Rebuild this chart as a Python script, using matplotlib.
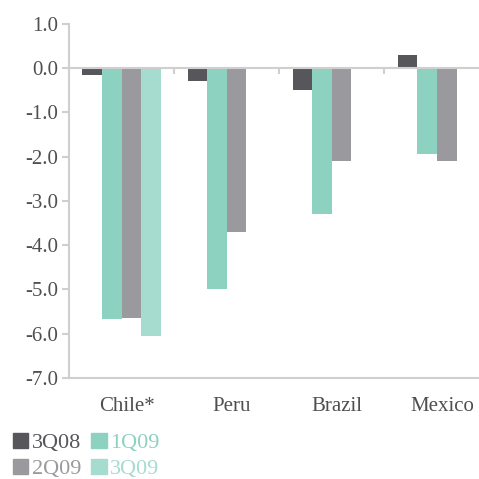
import matplotlib
matplotlib.use('Agg')
import matplotlib.pyplot as plt
import numpy as np
from matplotlib.patches import Patch

countries = ['Chile*', 'Peru', 'Brazil', 'Mexico']
series = ['3Q08', '1Q09', '2Q09', '3Q09']
q3_08 = [-0.15, -0.3, -0.5, 0.3]
q1_09 = [-5.67, -5.0, -3.3, -1.93]
q2_09 = [-5.65, -3.7, -2.1, -2.1]
q3_09 = [-6.05, np.nan, np.nan, np.nan]
colors = ['#56565b', '#8dd1c1', '#9a9a9e', '#a6dbd0']
yticks = [1.0, 0.0, -1.0, -2.0, -3.0, -4.0, -5.0, -6.0, -7.0]

plt.rcParams['font.family'] = ['Liberation Serif', 'DejaVu Serif']
plt.rcParams['axes.unicode_minus'] = False

fig = plt.figure(figsize=(4.79, 4.79), dpi=100)
ax = fig.add_axes([0.144, 0.211, 0.856, 0.739])

x = np.arange(len(countries))
w = 0.186
values = [q3_08, q1_09, q2_09, q3_09]
for i, (vals, c) in enumerate(zip(values, colors)):
    ax.bar(x + (i - 1.5) * w, vals, width=w, color=c, linewidth=0)

grid_c = '#cfcfcf'
ax.axhline(0, color=grid_c, linewidth=1.5, zorder=3)
ax.vlines(x[:-1] + 0.5, -0.12, 0, color=grid_c, linewidth=1.5, zorder=3)

ax.set_xlim(-0.5, 3.4)
ax.set_ylim(-7, 1)
ax.set_yticks(yticks)
ax.set_yticklabels(['%.1f' % v for v in yticks])
ax.set_xticks(x + 0.05)
ax.set_xticklabels(countries)

for s in ['top', 'right']:
    ax.spines[s].set_visible(False)
for s in ['left', 'bottom']:
    ax.spines[s].set_color(grid_c)
    ax.spines[s].set_linewidth(1.5)

ax.tick_params(axis='y', length=5, width=1.5, color=grid_c, labelcolor='#4f4f52', labelsize=15, pad=3)
ax.tick_params(axis='x', length=0, labelcolor='#4f4f52', labelsize=15, pad=14)

handles = [Patch(color=colors[0], label=series[0]), Patch(color=colors[2], label=series[2]),
           Patch(color=colors[1], label=series[1]), Patch(color=colors[3], label=series[3])]
fig.legend(handles=handles, ncol=2, loc='upper left', bbox_to_anchor=(0.027, 0.097),
           frameon=False, fontsize=16, handlelength=0.7, handleheight=0.7,
           handletextpad=0.15, columnspacing=0.45, labelspacing=0.25, borderpad=0.0,
           borderaxespad=0.0,
           labelcolor=[colors[0], colors[2], colors[1], colors[3]])

fig.savefig('out.png', dpi=100)
